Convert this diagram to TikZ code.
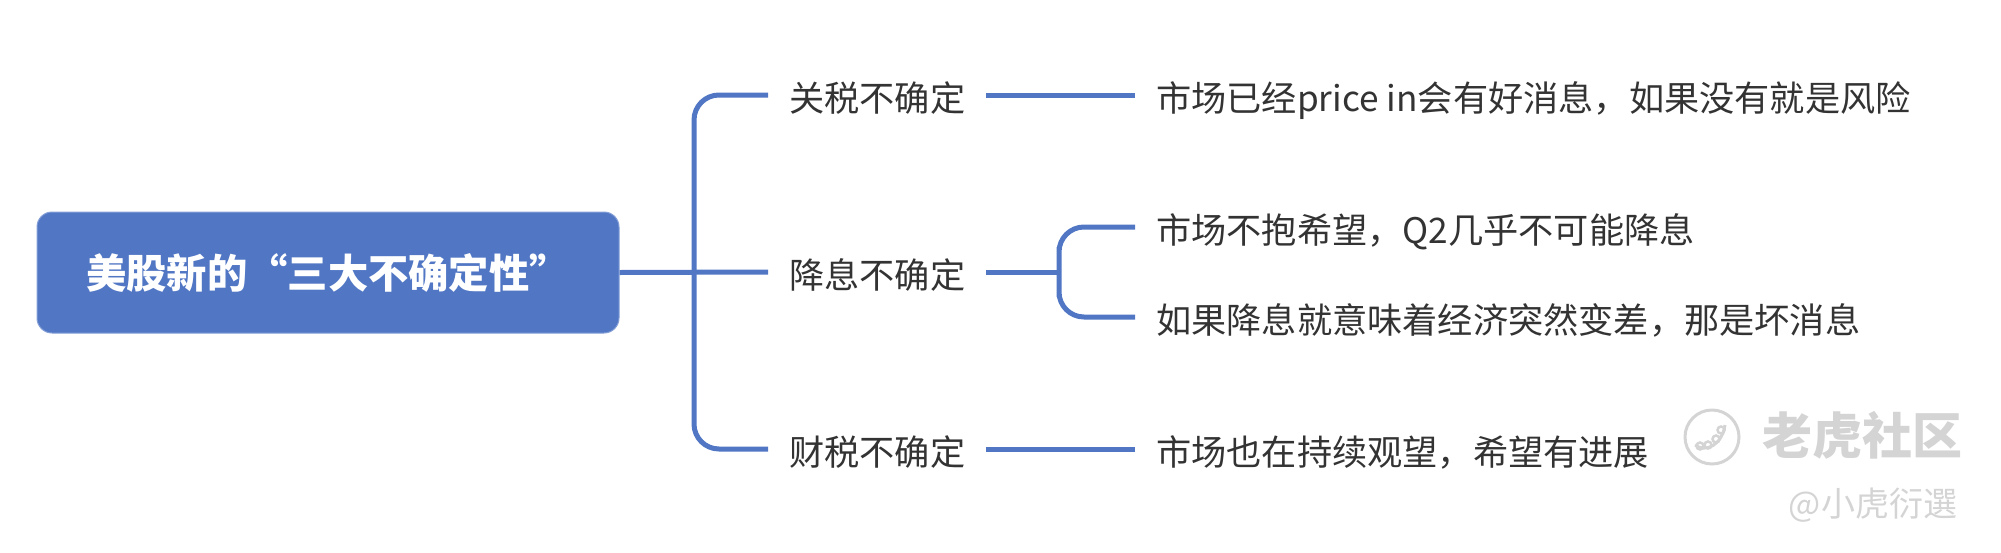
\documentclass[tikz,border=0pt]{standalone}
\usepackage{fontspec}
\setmainfont{Noto Sans CJK SC}
\definecolor{mainblue}{HTML}{5076C4}
\definecolor{inkgray}{HTML}{333333}
\definecolor{wmgray}{HTML}{D4D4D4}
\tikzset{
  x=1pt,y=-1pt,
  rootbox/.style={fill=mainblue,draw=mainblue!70!white,line width=1pt,rounded corners=15pt,minimum width=582pt,minimum height=121pt,inner sep=0pt,text=white,font=\fontsize{40.3}{44}\selectfont\bfseries},
  midlabel/.style={anchor=west,inner xsep=21pt,inner ysep=0pt,text=inkgray,text height=37pt,text depth=5pt,font=\fontsize{35.2}{40}\selectfont},
  leaflabel/.style={anchor=west,inner xsep=21pt,inner ysep=0pt,text=inkgray,text height=38pt,text depth=5pt,font=\fontsize{35.2}{40}\selectfont},
  conn/.style={draw=mainblue,line width=5pt},
  bendline/.style={conn,rounded corners=25pt},
  wmark/.style={inner sep=0pt,text=wmgray},
  wmline/.style={draw=wmgray,line width=3pt},
}
\begin{document}
\begin{tikzpicture}
\useasboundingbox (0,0) rectangle (2001,552);
\node[rootbox] (root) at (328,272.5) {\raisebox{-6pt}{美股新的“三大不确定性”}};
\node[midlabel] (m1) at (768,95) {关税不确定};
\node[midlabel] (m2) at (768,272) {降息不确定};
\node[midlabel] (m3) at (768,449) {财税不确定};
\node[leaflabel] (a1) at (1135,95) {市场已经price in会有好消息，如果没有就是风险};
\node[leaflabel] (b1) at (1135,227) {市场不抱希望，Q2几乎不可能降息};
\node[leaflabel] (b2) at (1135,317) {如果降息就意味着经济突然变差，那是坏消息};
\node[leaflabel] (c1) at (1135,449) {市场也在持续观望，希望有进展};
\coordinate (j1) at (694,272);
\coordinate (j2) at (1059,272);
\draw[conn] (root.east) -- (m2.west);
\draw[bendline] (m1.west) -| (j1) |- (m3.west);
\draw[conn] (m1.east) -- (a1.west);
\draw[conn] (m2.east) -- (j2);
\draw[bendline] (b1.west) -| (j2) |- (b2.west);
\draw[conn] (m3.east) -- (c1.west);
\node[circle,wmline,minimum size=54pt,inner sep=0pt] (logo) at (1712,437) {};
\draw[wmline] ([shift={(-17,8)}]logo.center) .. controls ([shift={(-6,16)}]logo.center) and ([shift={(10,8)}]logo.center) .. ([shift={(13,-12)}]logo.center);
\draw[wmline,line width=2.5pt] ([shift={(-12,9)}]logo.center) circle (3.5);
\draw[wmline,line width=2.5pt] ([shift={(-4,8)}]logo.center) circle (3.5);
\draw[wmline,line width=2.5pt] ([shift={(4,2)}]logo.center) circle (3.5);
\draw[wmline,line width=2.5pt] ([shift={(9,-7)}]logo.center) circle (3.5);
\node[wmark,font=\fontsize{50}{56}\selectfont\bfseries] (w1) at (1862,435) {老虎社区};
\node[wmark,font=\fontsize{34}{38}\selectfont] (w2) at (1873,505) {@小虎衍選};
\end{tikzpicture}
\end{document}
